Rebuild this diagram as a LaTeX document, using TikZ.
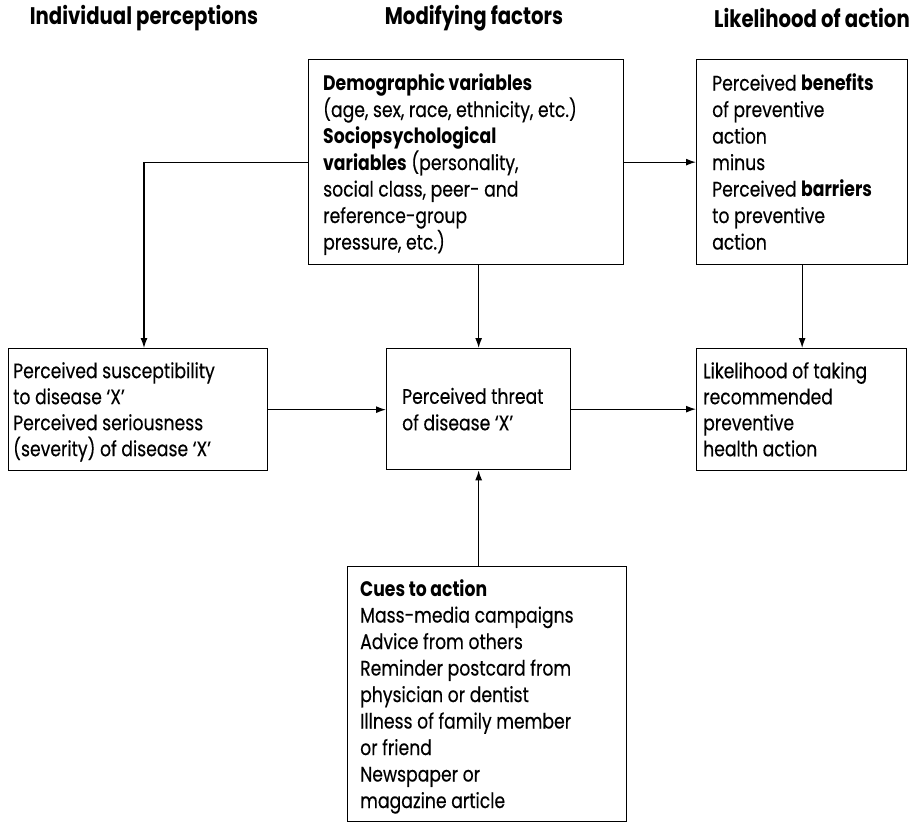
\documentclass[tikz,border=0pt]{standalone}
\usepackage{fontspec}
\setmainfont[FakeStretch=0.82, UprightFeatures={FakeBold=0.35}]{Poppins}
\usetikzlibrary{arrows.meta}
\begin{document}
\begin{tikzpicture}[x=1pt,y=-1pt,
  box/.style={draw, line width=1.3pt, inner sep=0pt, anchor=north west},
  txt/.style={inner sep=0pt, align=left, font=\fontsize{21}{26.5}\selectfont},
  stxt/.style={inner sep=0pt, align=left, font=\fontsize{21}{26}\selectfont},
  hdr/.style={inner sep=0pt, font=\bfseries\fontsize{24}{26}\selectfont},
  arr/.style={line width=1.3pt, -{Latex[length=10pt,width=7pt]}}
]
\useasboundingbox (0,0) rectangle (915,825);

% headers
\node[hdr] (h1) at (144,18) {Individual perceptions};
\node[hdr] (h2) at (474,18) {Modifying factors};
\node[hdr, anchor=east] (h3) at (910,18) {Likelihood of action};

% boxes
\node[box, minimum width=315pt, minimum height=205pt] (demo) at (308,59) {};
\node[box, minimum width=211pt, minimum height=205pt] (ben) at (696,59) {};
\node[box, minimum width=259pt, minimum height=122pt] (perc) at (8,348) {};
\node[box, minimum width=184pt, minimum height=121pt] (threat) at (386,348) {};
\node[box, minimum width=210pt, minimum height=122pt] (likely) at (696,348) {};
\node[box, minimum width=279pt, minimum height=255pt] (cues) at (347,566) {};

% texts
\node[txt, anchor=north west] (demoT) at ([shift={(15,14.5)}]demo.north west)
  {\textbf{Demographic variables}\\(age, sex, race, ethnicity, etc.)\\\textbf{Sociopsychological}\\\textbf{variables} (personality,\\social class, peer- and\\reference-group\\pressure, etc.)};
\node[txt, anchor=north west] (benT) at ([shift={(16,14.5)}]ben.north west)
  {Perceived \textbf{benefits}\\of preventive\\action\\minus\\Perceived \textbf{barriers}\\to preventive\\action};
\node[stxt, anchor=north west] (percT) at ([shift={(5,14)}]perc.north west)
  {Perceived susceptibility\\to disease `X'\\Perceived seriousness\\(severity) of disease `X'};
\node[txt, anchor=west] (threatT) at ([shift={(16,0)}]threat.west)
  {Perceived threat\\of disease `X'};
\node[stxt, anchor=north west] (likelyT) at ([shift={(7,14)}]likely.north west)
  {Likelihood of taking\\recommended\\preventive\\health action};
\node[txt, anchor=north west] (cuesT) at ([shift={(13,13)}]cues.north west)
  {\textbf{Cues to action}\\Mass-media campaigns\\Advice from others\\Reminder postcard from\\physician or dentist\\Illness of family member\\or friend\\Newspaper or\\magazine article};

% connectors
\draw[arr] (demo.west) -| (h1 |- perc.north);
\draw[arr] (demo.east) -- (ben.west |- demo.east);
\draw[arr] (demo.south -| threat.north) -- (threat.north);
\draw[arr] (ben.south) -- (ben.south |- likely.north);
\draw[arr] (perc.east) -- (threat.west |- perc.east);
\draw[arr] (threat.east) -- (likely.west |- threat.east);
\draw[arr] (cues.north -| threat.south) -- (threat.south);
\end{tikzpicture}
\end{document}
